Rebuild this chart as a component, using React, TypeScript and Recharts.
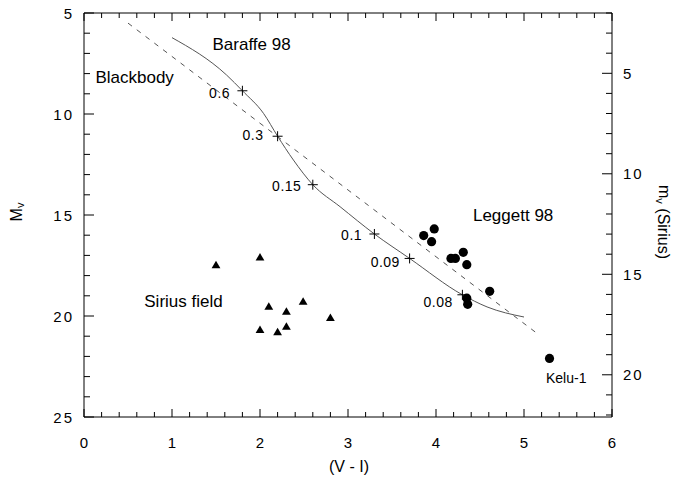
import React from 'react'
import { ComposedChart, Line, Scatter, XAxis, YAxis } from 'recharts'

const FONT = '"Liberation Sans", Arial, Helvetica, sans-serif'

const CHART_W = 674
const CHART_H = 480
const MARGIN_TOP = 13
const X_AXIS_H = 63
const LEFT_W = 84
const RIGHT_W = 62
const PLOT_W = CHART_W - LEFT_W - RIGHT_W

// tick labels
const xMajorTicks = [0, 1, 2, 3, 4, 5, 6]
const yLeftMajorTicks = [5, 10, 15, 20, 25]
const yRightMajorTicks = [5, 10, 15, 20]

// minor ticks (every 0.2 on x, every 1 on y)
const xTicks = Array.from({ length: 31 }, (_, i) => Math.round(i * 2) / 10)
const yLeftTicks = Array.from({ length: 21 }, (_, i) => 5 + i)
const yRightTicks = Array.from({ length: 21 }, (_, i) => 2 + i)

// Baraffe 98 model track
const baraffe = [
  { x: 1.0, y: 6.22 },
  { x: 1.62, y: 8.07 },
  { x: 1.8, y: 8.85 },
  { x: 2.04, y: 9.97 },
  { x: 2.2, y: 11.1 },
  { x: 2.38, y: 12.28 },
  { x: 2.6, y: 13.5 },
  { x: 2.91, y: 14.59 },
  { x: 3.3, y: 15.94 },
  { x: 3.7, y: 17.15 },
  { x: 4.3, y: 18.95 },
  { x: 4.58, y: 19.55 },
  { x: 5.0, y: 20.05 },
]

// blackbody line
const blackbody = [
  { x: 0.5, y: 5.5 },
  { x: 5.13, y: 20.8 },
]

// mass marks on the Baraffe track
const massMarks = [
  { x: 1.8, y: 8.85, mass: '0.6' },
  { x: 2.2, y: 11.1, mass: '0.3' },
  { x: 2.6, y: 13.5, mass: '0.15' },
  { x: 3.3, y: 15.94, mass: '0.1' },
  { x: 3.7, y: 17.15, mass: '0.09' },
  { x: 4.3, y: 18.95, mass: '0.08' },
]

// label anchors (right end / baseline) for the mass marks
const massLabels = [
  { x: 1.66, y: 9.19, text: '0.6' },
  { x: 2.04, y: 11.29, text: '0.3' },
  { x: 2.47, y: 13.8, text: '0.15' },
  { x: 3.16, y: 16.24, text: '0.1' },
  { x: 3.59, y: 17.59, text: '0.09' },
  { x: 4.19, y: 19.54, text: '0.08' },
]

// Leggett 98 objects
const leggett = [
  { x: 3.98, y: 15.69 },
  { x: 3.86, y: 16.02 },
  { x: 3.95, y: 16.32 },
  { x: 4.31, y: 16.85 },
  { x: 4.17, y: 17.15 },
  { x: 4.22, y: 17.15 },
  { x: 4.35, y: 17.46 },
  { x: 4.61, y: 18.78 },
  { x: 4.35, y: 19.12 },
  { x: 4.36, y: 19.42 },
]

const kelu = [{ x: 5.29, y: 22.1 }]

// Sirius field candidates
const siriusField = [
  { x: 1.5, y: 17.49 },
  { x: 2.0, y: 17.11 },
  { x: 2.1, y: 19.54 },
  { x: 2.3, y: 19.79 },
  { x: 2.49, y: 19.3 },
  { x: 2.8, y: 20.1 },
  { x: 2.0, y: 20.69 },
  { x: 2.2, y: 20.8 },
  { x: 2.3, y: 20.53 },
]

// text annotations (left end / baseline)
const annotations = [
  { x: 1.46, y: 6.83, text: 'Baraffe 98', size: 17 },
  { x: 0.13, y: 8.48, text: 'Blackbody', size: 17 },
  { x: 4.42, y: 15.3, text: 'Leggett 98', size: 17 },
  { x: 0.685, y: 19.54, text: 'Sirius field', size: 17 },
  { x: 5.25, y: 23.3, text: 'Kelu-1', size: 14 },
]

const isMajor = (v: number, majors: number[]) => majors.some((m) => Math.abs(m - v) < 1e-6)

const tickText = { fontFamily: FONT, fontSize: 15, fill: '#000', letterSpacing: 2 }

const BottomTick = ({ x, y, payload }: any) => {
  const major = isMajor(payload.value, xMajorTicks)
  return (
    <g>
      <line x1={x} x2={x} y1={y} y2={y - (major ? 8 : 5)} stroke="#000" />
      {major && (
        <text x={x + 1} y={y + 31} textAnchor="middle" {...tickText}>
          {payload.value}
        </text>
      )}
    </g>
  )
}

const LeftTick = ({ x, y, payload }: any) => {
  const major = isMajor(payload.value, yLeftMajorTicks)
  return (
    <g>
      <line x1={x} x2={x + (major ? 10 : 6)} y1={y} y2={y} stroke="#000" />
      {major && (
        <text x={x - 10} y={y + 5.5} textAnchor="end" {...tickText}>
          {payload.value}
        </text>
      )}
    </g>
  )
}

const RightTick = ({ x, y, payload }: any) => {
  const major = isMajor(payload.value, yRightMajorTicks)
  return (
    <g>
      <line x1={x} x2={x - (major ? 10 : 6)} y1={y} y2={y} stroke="#000" />
      {major && (
        <text x={x + 11} y={y + 5.5} textAnchor="start" {...tickText}>
          {payload.value}
        </text>
      )}
    </g>
  )
}

const Plus = ({ cx, cy }: any) => (
  <g stroke="#000" strokeWidth={1}>
    <line x1={cx - 5} x2={cx + 5} y1={cy} y2={cy} />
    <line x1={cx} x2={cx} y1={cy - 5} y2={cy + 5} />
  </g>
)

const Dot = ({ cx, cy }: any) => <circle cx={cx} cy={cy} r={4.6} fill="#000" />

const Triangle = ({ cx, cy }: any) => (
  <path d={`M${cx},${cy - 4.5} L${cx + 4.4},${cy + 3} L${cx - 4.4},${cy + 3} Z`} fill="#000" />
)

const MassText = ({ cx, cy, payload }: any) => (
  <text x={cx} y={cy} textAnchor="end" fontFamily={FONT} fontSize={14} fill="#000" letterSpacing={0.5}>
    {payload.text}
  </text>
)

const NoteText = ({ cx, cy, payload }: any) => (
  <text x={cx} y={cy} textAnchor="start" fontFamily={FONT} fontSize={payload.size} fill="#000">
    {payload.text}
  </text>
)

const Nothing = () => <g />

export default function App() {
  return (
    <div style={{ position: 'absolute', left: 0, top: 0, width: CHART_W, height: CHART_H, background: '#fff', fontFamily: FONT }}>
      <ComposedChart width={CHART_W} height={CHART_H} margin={{ top: MARGIN_TOP, right: 0, bottom: 0, left: 0 }}>
        <XAxis
          xAxisId="bottom"
          dataKey="x"
          type="number"
          domain={[0, 6]}
          ticks={xTicks}
          interval={0}
          height={X_AXIS_H}
          tickSize={0}
          tickMargin={0}
          tick={<BottomTick />}
          axisLine={{ stroke: '#000' }}
        />
        <YAxis
          yAxisId="left"
          type="number"
          domain={[5, 25]}
          reversed
          ticks={yLeftTicks}
          interval={0}
          width={LEFT_W}
          tickSize={0}
          tickMargin={0}
          tick={<LeftTick />}
          axisLine={{ stroke: '#000' }}
        />
        <YAxis
          yAxisId="right"
          orientation="right"
          type="number"
          domain={[2, 22]}
          reversed
          ticks={yRightTicks}
          interval={0}
          width={RIGHT_W}
          tickSize={0}
          tickMargin={0}
          tick={<RightTick />}
          axisLine={{ stroke: '#000' }}
        />
        <Line
          xAxisId="bottom"
          yAxisId="left"
          data={blackbody}
          dataKey="y"
          type="linear"
          stroke="#555"
          strokeWidth={1}
          strokeDasharray="5 6"
          dot={false}
          activeDot={false}
          isAnimationActive={false}
        />
        <Line
          xAxisId="bottom"
          yAxisId="left"
          data={baraffe}
          dataKey="y"
          type="monotone"
          stroke="#555"
          strokeWidth={1}
          dot={false}
          activeDot={false}
          isAnimationActive={false}
        />
        {/* invisible series so the right axis gets drawn */}
        <Scatter xAxisId="bottom" yAxisId="right" data={kelu} dataKey="y" shape={<Nothing />} isAnimationActive={false} />
        <Scatter xAxisId="bottom" yAxisId="left" data={massMarks} dataKey="y" shape={<Plus />} isAnimationActive={false} />
        <Scatter xAxisId="bottom" yAxisId="left" data={massLabels} dataKey="y" shape={<MassText />} isAnimationActive={false} />
        <Scatter xAxisId="bottom" yAxisId="left" data={leggett} dataKey="y" shape={<Dot />} isAnimationActive={false} />
        <Scatter xAxisId="bottom" yAxisId="left" data={kelu} dataKey="y" shape={<Dot />} isAnimationActive={false} />
        <Scatter xAxisId="bottom" yAxisId="left" data={siriusField} dataKey="y" shape={<Triangle />} isAnimationActive={false} />
        <Scatter xAxisId="bottom" yAxisId="left" data={annotations} dataKey="y" shape={<NoteText />} isAnimationActive={false} />
        {/* top frame edge with inward ticks, on the same 0..6 span as the bottom axis */}
        <line x1={LEFT_W} x2={LEFT_W + PLOT_W} y1={MARGIN_TOP} y2={MARGIN_TOP} stroke="#000" />
        {xTicks.map((v) => (
          <line
            key={`top-${v}`}
            x1={LEFT_W + (v / 6) * PLOT_W}
            x2={LEFT_W + (v / 6) * PLOT_W}
            y1={MARGIN_TOP}
            y2={MARGIN_TOP + (isMajor(v, xMajorTicks) ? 8 : 5)}
            stroke="#000"
          />
        ))}
        <text x={16} y={212} transform="rotate(-90 16 212)" textAnchor="middle" dominantBaseline="central" fontFamily={FONT} fontSize={16} fill="#000">
          M<tspan fontSize={11} dy={4}>v</tspan>
        </text>
        <text x={349} y={472} textAnchor="middle" fontFamily={FONT} fontSize={16} fill="#000">
          (V - I)
        </text>
        <text x={664} y={222} transform="rotate(90 664 222)" textAnchor="middle" dominantBaseline="central" fontFamily={FONT} fontSize={16} fill="#000">
          m<tspan fontSize={11} dy={4}>v</tspan>
          <tspan dy={-4}> (Sirius)</tspan>
        </text>
      </ComposedChart>
    </div>
  )
}
